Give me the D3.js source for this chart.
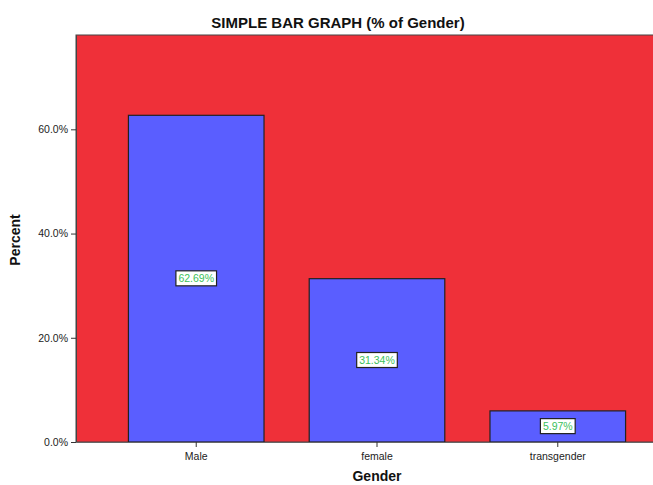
<!DOCTYPE html>
<html lang="en">
  <head>
    <meta charset="utf-8">
    <title>Simple bar graph</title>
    <script src="https://cdn.jsdelivr.net/npm/d3@7"></script>
    <style>
      body { margin: 0; background: #fff; }
      text { font-family: "Liberation Sans", Arial, sans-serif; }
    </style>
  </head>
  <body>
    <script>
      const categories = ["Male", "female", "transgender"];
      const percents = [62.69, 31.34, 5.97];
      const yTicks = [0, 20, 40, 60];

      const W = 653, H = 485;
      const LEFT = 76, TOP = 35, BOTTOM = 442, RIGHT = 678; // plot runs past the window edge

      var svg = d3.select("body").append("svg")
        .attr("width", W)
        .attr("height", H);

      var x = d3.scaleBand()
        .domain(categories)
        .range([LEFT, RIGHT])
        .paddingInner(0.25)
        .paddingOuter(0.29);

      var y = d3.scaleLinear()
        .domain([0, 78.1])
        .range([BOTTOM, TOP]);

      // plot background
      svg.append("rect")
        .attr("x", LEFT)
        .attr("y", TOP)
        .attr("width", RIGHT - LEFT)
        .attr("height", BOTTOM - TOP)
        .attr("fill", "#ef3039")
        .attr("stroke", "#444")
        .attr("stroke-width", 1);

      svg.selectAll("rect.bar")
        .data(percents)
        .enter().append("rect")
        .attr("class", "bar")
        .attr("x", (d, i) => x(categories[i]))
        .attr("y", d => y(d))
        .attr("width", x.bandwidth())
        .attr("height", d => BOTTOM - y(d))
        .attr("fill", "#5a5eff")
        .attr("stroke", "#222")
        .attr("stroke-width", 1.2);

      // value labels in the middle of each bar
      var labels = svg.selectAll("g.lab")
        .data(percents)
        .enter().append("g")
        .attr("class", "lab")
        .attr("transform", (d, i) => "translate(" + (x(categories[i]) + x.bandwidth() / 2) + "," + y(d / 2) + ")");

      labels.append("text")
        .attr("text-anchor", "middle")
        .attr("dy", "0.35em")
        .attr("font-size", 10.5)
        .attr("fill", "#3cbf5a")
        .text(d => d.toFixed(2) + "%");

      labels.each(function() {
        var g = d3.select(this);
        var bb = g.select("text").node().getBBox();
        g.insert("rect", "text")
          .attr("x", bb.x - 2.5)
          .attr("y", bb.y - 1.5)
          .attr("width", bb.width + 5)
          .attr("height", bb.height + 3)
          .attr("fill", "#fff")
          .attr("stroke", "#222")
          .attr("stroke-width", 1.2);
      });

      // axes
      var yAxis = svg.append("g")
        .attr("transform", "translate(" + LEFT + ",0)")
        .call(d3.axisLeft(y).tickValues(yTicks).tickSize(5).tickSizeOuter(0)
          .tickFormat(d => d.toFixed(1) + "%"));
      yAxis.select(".domain").attr("stroke", "#444");
      yAxis.selectAll(".tick line").attr("stroke", "#333");
      yAxis.selectAll(".tick text").attr("font-size", 10.5).attr("fill", "#222")
        .attr("font-family", "Liberation Sans, Arial, sans-serif");

      var xAxis = svg.append("g")
        .attr("transform", "translate(0," + BOTTOM + ")")
        .call(d3.axisBottom(x).tickSize(5).tickSizeOuter(0));
      xAxis.select(".domain").attr("stroke", "#666");
      xAxis.selectAll(".tick line").attr("stroke", "#333");
      xAxis.selectAll(".tick text").attr("font-size", 10.5).attr("fill", "#222")
        .attr("font-family", "Liberation Sans, Arial, sans-serif")
        .attr("dy", "0.95em");

      // titles
      svg.append("text")
        .attr("x", 338)
        .attr("y", 28)
        .attr("text-anchor", "middle")
        .attr("font-size", 15)
        .attr("font-weight", "bold")
        .attr("fill", "#111")
        .text("SIMPLE BAR GRAPH (% of Gender)");

      svg.append("text")
        .attr("x", (LEFT + RIGHT) / 2)
        .attr("y", 481)
        .attr("text-anchor", "middle")
        .attr("font-size", 14)
        .attr("font-weight", "bold")
        .attr("fill", "#111")
        .text("Gender");

      svg.append("text")
        .attr("transform", "translate(20,240) rotate(-90)")
        .attr("text-anchor", "middle")
        .attr("font-size", 14)
        .attr("font-weight", "bold")
        .attr("fill", "#111")
        .text("Percent");
    </script>
  </body>
</html>
